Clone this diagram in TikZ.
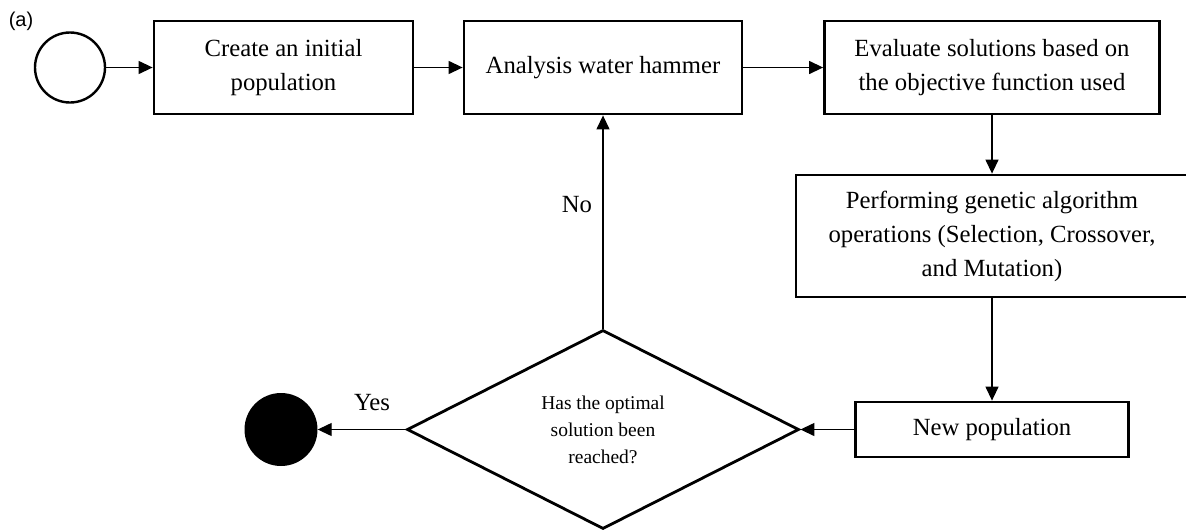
\documentclass[tikz,border=0pt]{standalone}
\usepackage{fontspec}
\setmainfont{Liberation Serif}
\newfontfamily\labfont{Liberation Sans}
\usetikzlibrary{arrows.meta,shapes.geometric}
\begin{document}
\begin{tikzpicture}[x=1pt,y=-1pt,
  box/.style={draw, line width=2.8pt, rectangle, align=center, inner sep=0pt,
    font=\fontsize{24.7}{34}\selectfont},
  conn/.style={line width=1.3pt, -{Triangle[length=14pt,width=13pt]}},
  lab/.style={font=\fontsize{24.7}{30}\selectfont, inner sep=0pt}]
\useasboundingbox (0,0) rectangle (1186,531);
\node[font=\labfont\fontsize{20}{22}\selectfont, inner sep=0pt] (a) at (21,21) {(a)};
\node[draw, circle, line width=2.4pt, minimum size=70pt, inner sep=0pt] (s) at (70,67.5) {};
\node[box, minimum width=259pt, minimum height=93pt] (b1) at (283.5,67.5) {Create an initial\\population};
\node[box, minimum width=278pt, minimum height=93pt] (b2) at (603,67.5) {\raisebox{6pt}{Analysis water hammer}};
\node[box, minimum width=335pt, minimum height=93pt] (b3) at (992,67.5) {Evaluate solutions based on\\the objective function used};
\node[box, minimum width=392pt, minimum height=122pt] (b4) at (992,236) {Performing genetic algorithm\\operations (Selection, Crossover,\\and Mutation)};
\node[box, minimum width=273pt, minimum height=55pt] (b5) at (992,429.5) {New population};
\node[draw, diamond, aspect=1.97, line width=2.8pt, minimum width=392pt, minimum height=199pt, inner sep=0pt, align=center, font=\fontsize{19.5}{27}\selectfont] (d) at (603,429.5) {Has the optimal\\solution been\\reached?};
\node[circle, fill=black, minimum size=73pt, inner sep=0pt] (e) at (281,429.5) {};
\node[lab] (yes) at (372,403) {Yes};
\node[lab] (no) at (577,205) {No};
\draw[conn] (s) -- (b1);
\draw[conn] (b1) -- (b2);
\draw[conn] (b2) -- (b3);
\draw[conn] (b3) -- (b4);
\draw[conn] (b4) -- (b5);
\draw[conn] (b5) -- (d);
\draw[conn] (d) -- (e);
\draw[conn] (d) -- (b2);
\end{tikzpicture}
\end{document}
